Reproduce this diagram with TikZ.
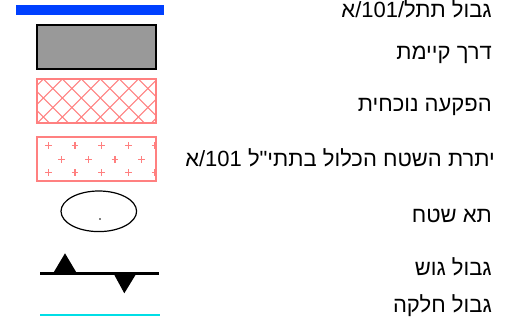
\documentclass[tikz,border=0pt]{standalone}
\usepackage{fontspec}
\setmainfont{Liberation Sans}
\newfontfamily\hebfont[Script=Hebrew]{Liberation Sans}
\TeXXeTstate=1
\usepackage{tikz}
\usetikzlibrary{positioning}

\definecolor{planblue}{RGB}{0,64,255}
\definecolor{roadgray}{RGB}{153,153,153}
\definecolor{hatchred}{RGB}{255,128,128}
\definecolor{parcelcyan}{RGB}{0,222,230}

\begin{document}
\begin{tikzpicture}[x=1pt, y=-1pt,
  lbl/.style={anchor=base east, inner sep=0pt, font=\hebfont\fontsize{22}{25}\selectfont},
  swatch/.style={line width=1.2pt},
  redline/.style={draw=hatchred, line width=1.1pt}]
  \useasboundingbox (0,0) rectangle (517,324);

  % plan boundary
  \draw[planblue, line width=10pt] (16,10) -- (164,10);
  \node[lbl] (plan) at (492,17) {\beginR גבול תתל/\beginL 101\endL/א\endR};

  % existing road
  \draw[swatch, fill=roadgray] (37,25) rectangle (156,69);
  \node[lbl] (road) at (492,59) {\beginR דרך קיימת\endR};

  % current expropriation
  \begin{scope}
    \clip (37,79) rectangle (156,123);
    \foreach \k in {-3,...,8} {
      \draw[redline] (43.3+19*\k,79) -- ++(44,44);
      \draw[redline] (43.3+19*\k,79) -- ++(-44,44);
    }
  \end{scope}
  \draw[redline] (37,79) rectangle (156,123);
  \node[lbl] (expro) at (492,111) {\beginR הפקעה נוכחית\endR};

  % remaining area
  \begin{scope}
    \clip (37,137) rectangle (156,181);
    \foreach \px/\py in {48.3/145.7, 75/145.7, 101.7/145.7, 128.3/145.7, 155/145.7,
                         35/159.5, 61.7/159.5, 88.3/159.5, 115/159.5, 141.7/159.5,
                         48.3/172.7, 75/172.7, 101.7/172.7, 128.3/172.7, 155/172.7}
      \draw[redline] (\px-3.3,\py) -- (\px+3.3,\py) (\px,\py-3.3) -- (\px,\py+3.3);
  \end{scope}
  \draw[redline] (37,137) rectangle (156,181);
  \node[lbl] (rest) at (495,166.5) {\beginR יתרת השטח הכלול בתתי"ל \beginL 101\endL/א\endR};

  % area cell
  \draw[swatch] (98.8,211.3) ellipse [x radius=37.8, y radius=20.3];
  \fill (100,219) circle (0.9pt);
  \node[lbl] (cell) at (492,222) {\beginR תא שטח\endR};

  % block boundary
  \draw[line width=3.3pt] (40,273.3) -- (159.3,273.3);
  \fill (53.3,273) -- (65,253.3) -- (76.7,273) -- cycle;
  \fill (113.3,273) -- (124.3,293.3) -- (136.7,273) -- cycle;
  \node[lbl] (block) at (492,275) {\beginR גבול גוש\endR};

  % parcel boundary
  \draw[parcelcyan, line width=2.3pt] (40,314.7) -- (160,314.7);
  \node[lbl] (parcel) at (492,312) {\beginR גבול חלקה\endR};
\end{tikzpicture}
\end{document}
